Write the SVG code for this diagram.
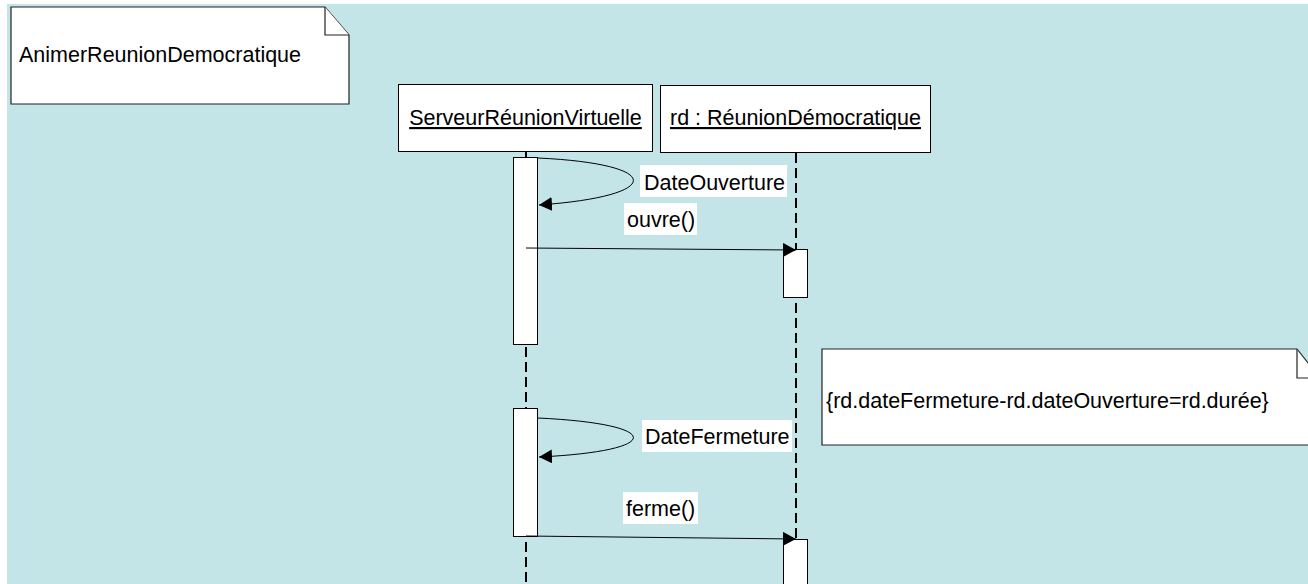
<svg xmlns="http://www.w3.org/2000/svg" width="1308" height="584" viewBox="0 0 1308 584">
<style>
.t{font-family:"Liberation Sans",Arial,sans-serif;font-size:21.5px;fill:#000}
.box{fill:#fff;stroke:#000;stroke-width:1}
.note{fill:#fff;stroke:#222;stroke-width:1.2}
.life{stroke:#000;stroke-width:2;stroke-dasharray:10 5;fill:none}
.act{fill:#fff;stroke:#000;stroke-width:1}
.msg{stroke:#000;stroke-width:1;fill:none}
.lbl{fill:#fff}
</style>
<defs>
<marker id="arr" markerWidth="14" markerHeight="14" refX="13" refY="7" orient="auto" markerUnits="userSpaceOnUse">
<path d="M0,0 L13,7 L0,14 Z" fill="#000"/>
</marker>
</defs>
<rect x="7" y="4" width="1301" height="580" fill="#c3e5e8"/>
<g id="note-title">
<path class="note" d="M11,7 H325 L349,35 V104 H11 Z"/>
<path class="note" d="M325,7 V35 H349" fill="none"/>
<text class="t" x="19" y="62">AnimerReunionDemocratique</text>
</g>
<g id="lifeline-serveur">
<line class="life" x1="526" y1="152" x2="526" y2="584"/>
<rect class="box" x="398.5" y="84.5" width="254" height="67"/>
<text class="t" x="525.5" y="125" text-anchor="middle" text-decoration="underline">ServeurRéunionVirtuelle</text>
<rect class="act" x="513.5" y="157.5" width="24" height="187"/>
<rect class="act" x="513.5" y="408.5" width="24" height="128"/>
</g>
<g id="lifeline-rd">
<line class="life" x1="796" y1="153" x2="796" y2="584"/>
<rect class="box" x="660.5" y="85.5" width="270" height="67"/>
<text class="t" x="795.5" y="125" text-anchor="middle" text-decoration="underline">rd : RéunionDémocratique</text>
<rect class="act" x="783.5" y="249.5" width="24" height="48"/>
<rect class="act" x="783.5" y="539.5" width="24" height="50"/>
</g>
<g id="note-constraint">
<path class="note" d="M822,349 H1297 L1320,378 V445 H822 Z"/>
<path class="note" d="M1297,349 V378 H1310" fill="none"/>
<text class="t" x="826" y="408">{rd.dateFermeture-rd.dateOuverture=rd.durée}</text>
</g>
<g id="connectors">
<path class="msg" d="M538,158 C665,164 665,196 539,205" marker-end="url(#arr)"/>
<line class="msg" x1="526" y1="248" x2="796" y2="250" marker-end="url(#arr)"/>
<path class="msg" d="M538,418 C665,424 665,451 539,457" marker-end="url(#arr)"/>
<line class="msg" x1="526" y1="536" x2="796" y2="539" marker-end="url(#arr)"/>
</g>
<g id="labels">
<rect class="lbl" x="640" y="165" width="147" height="32"/>
<text class="t" x="644" y="190">DateOuverture</text>
<rect class="lbl" x="624" y="203" width="73" height="32"/>
<text class="t" x="627" y="227">ouvre()</text>
<rect class="lbl" x="642" y="420" width="150" height="32"/>
<text class="t" x="645" y="444">DateFermeture</text>
<rect class="lbl" x="623" y="492" width="75" height="32"/>
<text class="t" x="626" y="516">ferme()</text>
</g>
</svg>
